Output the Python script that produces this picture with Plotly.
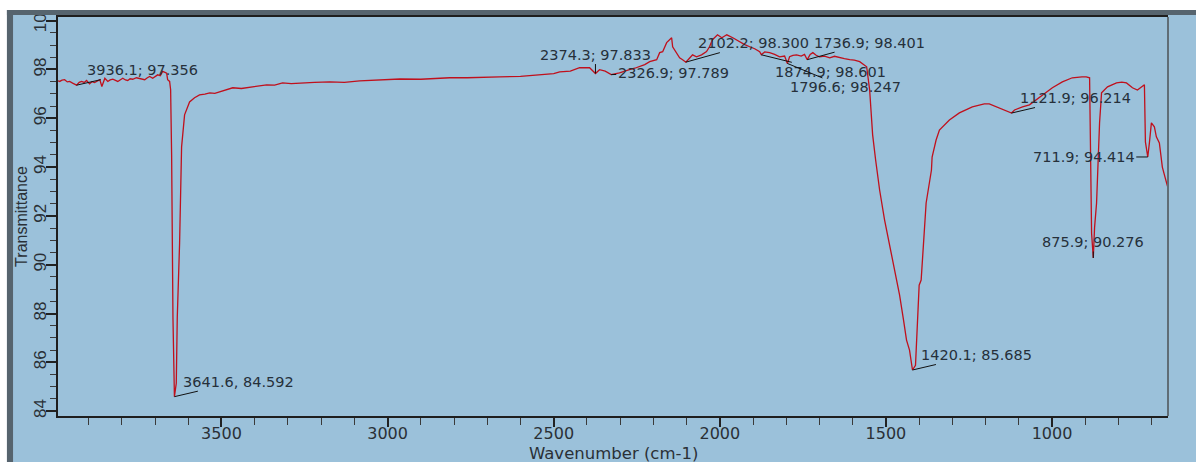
import plotly.graph_objects as go

# FTIR spectrum: wavenumber (cm-1) and transmittance (%)
wavenumber = [
    3992, 3987, 3980, 3972, 3964, 3957, 3948, 3936.1, 3928, 3921, 3913, 3906,
    3897, 3890, 3882, 3874, 3866, 3860, 3851, 3842, 3835, 3827, 3819, 3812,
    3804, 3797, 3789, 3782, 3775, 3767, 3756, 3746, 3738, 3731, 3723, 3716,
    3707, 3700, 3692, 3684, 3677, 3670, 3665, 3662, 3656, 3653, 3650, 3646,
    3643, 3641.6, 3636, 3633, 3626, 3620, 3611, 3602, 3596, 3581, 3566, 3550,
    3535, 3520, 3505, 3486, 3466, 3440, 3406, 3385, 3364, 3340, 3316, 3290,
    3264, 3220, 3174, 3130, 3084, 3020, 2963, 2900, 2850, 2813, 2760, 2710,
    2663, 2600, 2542, 2500, 2482, 2450, 2422, 2392, 2374.3, 2362, 2345, 2326.9,
    2302, 2285, 2272, 2256, 2241, 2226, 2211, 2190, 2181, 2172, 2160, 2145,
    2142, 2130, 2121, 2112, 2102.2, 2092, 2082, 2070, 2055, 2040, 2031, 2022,
    2007, 1994, 1979, 1961, 1940, 1925, 1910, 1895, 1880, 1874.9, 1865, 1850,
    1835, 1820, 1805, 1796.6, 1790, 1780, 1769, 1755, 1745, 1736.9, 1728, 1720,
    1710, 1700, 1685, 1669, 1655, 1639, 1625, 1609, 1595, 1579, 1558, 1549,
    1540, 1531, 1519, 1504, 1489, 1474, 1459, 1447, 1438, 1429, 1420.1, 1411,
    1405, 1400, 1394, 1385, 1379, 1363, 1361, 1349, 1339, 1309, 1279, 1240,
    1204, 1189, 1158, 1140, 1128, 1121.9, 1113, 1089, 1068, 1038, 999, 969,
    939, 910, 897, 887, 881, 875.9, 872, 866, 857, 851, 833, 806,
    790, 776, 758, 743, 730, 722, 719, 711.9, 707, 701, 692, 686,
    677, 668, 660, 651,
]
transmittance = [
    97.53, 97.51, 97.56, 97.58, 97.49, 97.51, 97.44, 97.356, 97.47, 97.51, 97.47, 97.55,
    97.41, 97.50, 97.46, 97.53, 97.58, 97.30, 97.64, 97.51, 97.57, 97.60, 97.55, 97.51,
    97.58, 97.64, 97.57, 97.55, 97.62, 97.60, 97.66, 97.64, 97.60, 97.58, 97.66, 97.71,
    97.64, 97.70, 97.78, 97.74, 97.92, 97.88, 97.85, 97.58, 97.51, 97.17, 94.50, 87.85,
    85.50, 84.592, 85.14, 87.85, 90.89, 94.83, 96.14, 96.47, 96.67, 96.84, 96.96, 96.99,
    97.04, 97.02, 97.08, 97.14, 97.25, 97.22, 97.29, 97.33, 97.37, 97.36, 97.45, 97.42,
    97.45, 97.47, 97.49, 97.47, 97.53, 97.56, 97.61, 97.60, 97.64, 97.66, 97.66, 97.69,
    97.70, 97.72, 97.78, 97.83, 97.90, 97.93, 98.07, 98.07, 97.833, 97.99, 97.93, 97.789,
    97.86, 97.95, 97.99, 98.05, 98.11, 98.20, 98.32, 98.40, 98.69, 98.73, 99.10, 99.30,
    98.93, 98.69, 98.48, 98.40, 98.300, 98.45, 98.60, 98.52, 98.60, 98.73, 98.93, 99.22,
    99.42, 99.30, 99.42, 99.30, 99.13, 99.02, 98.93, 98.85, 98.73, 98.601, 98.72, 98.69,
    98.62, 98.52, 98.55, 98.247, 98.52, 98.58, 98.60, 98.55, 98.62, 98.401, 98.62, 98.69,
    98.58, 98.52, 98.55, 98.48, 98.54, 98.48, 98.44, 98.40, 98.38, 98.32, 98.11, 97.16,
    95.32, 94.29, 93.06, 91.83, 90.80, 89.78, 88.76, 87.73, 86.91, 86.50, 85.685, 85.88,
    87.73, 89.16, 89.37, 91.30, 92.53, 93.88, 94.41, 95.11, 95.52, 95.93, 96.22, 96.47,
    96.59, 96.59, 96.43, 96.33, 96.26, 96.214, 96.34, 96.47, 96.55, 96.84, 97.25, 97.49,
    97.66, 97.70, 97.70, 97.66, 91.29, 90.276, 91.53, 92.53, 95.81, 97.04, 97.29, 97.45,
    97.48, 97.45, 97.25, 97.16, 97.30, 97.37, 95.03, 94.414, 94.99, 95.81, 95.65, 95.24,
    94.99, 94.00, 93.59, 93.14,
]

# Picked peaks (wavenumber, transmittance) and their label separators
peak_wn = [3936.1, 3641.6, 2374.3, 2326.9, 2102.2, 1874.9, 1796.6, 1736.9,
           1420.1, 1121.9, 875.9, 711.9]
peak_t = [97.356, 84.592, 97.833, 97.789, 98.300, 98.601, 98.247, 98.401,
          85.685, 96.214, 90.276, 94.414]
peak_sep = ["; ", ", ", "; ", "; ", "; ", "; ", "; ", "; ",
            "; ", "; ", "; ", "; "]
# label offsets from the peak, in pixels
peak_offset = [(66, -15), (64, -15), (0, -19), (62, -2), (68, -19), (69, 17),
               (58, 24), (62, -17), (64, -15), (64, -15), (0, -16), (-64, 0)]

x_ticks = [3500, 3000, 2500, 2000, 1500, 1000]
y_ticks = [84, 86, 88, 90, 92, 94, 96, 98, 100]

BG = "#9bc1da"
BAND = "#56646e"
TEXT = "#2a3036"

fig = go.Figure()
fig.add_trace(go.Scatter(
    x=wavenumber, y=transmittance, mode="lines",
    line=dict(color="#c0101c", width=1.3),
    hoverinfo="skip", showlegend=False,
))

for wn, t, sep, (ax, ay) in zip(peak_wn, peak_t, peak_sep, peak_offset):
    fig.add_annotation(
        x=wn, y=t, text=f"{wn:.1f}{sep}{t:.3f}",
        showarrow=True, arrowhead=0, arrowwidth=1, arrowcolor="#111111",
        ax=ax, ay=ay, standoff=0,
        font=dict(family="DejaVu Sans", size=14.5, color="#26303a"),
    )

# x-axis title, placed under the tick labels
fig.add_annotation(
    xref="paper", yref="paper", x=0.5, y=-0.094, xanchor="center",
    yanchor="middle", showarrow=False, text="Wavenumber (cm-1)",
    font=dict(family="DejaVu Sans", size=16.5, color=TEXT),
)

# outer frame: white margin and dark bands at top and left, gray right border
shapes = [
    dict(type="rect", xref="paper", yref="paper", x0=-0.06, x1=1.05,
         y0=1.0175, y1=1.06, fillcolor="white", line_width=0, layer="above"),
    dict(type="rect", xref="paper", yref="paper", x0=-0.06, x1=-0.0460,
         y0=-0.13, y1=1.06, fillcolor="white", line_width=0, layer="above"),
    dict(type="rect", xref="paper", yref="paper", x0=-0.0460, x1=1.05,
         y0=1.0050, y1=1.0175, fillcolor=BAND, line_width=0, layer="above"),
    dict(type="rect", xref="paper", yref="paper", x0=-0.0460, x1=-0.0405,
         y0=-0.13, y1=1.0175, fillcolor=BAND, line_width=0, layer="above"),
    dict(type="line", xref="paper", yref="paper", x0=1, x1=1, y0=0, y1=1,
         line=dict(color="#5f6d76", width=2), layer="above"),
]

fig.update_layout(
    width=1196, height=462,
    margin=dict(l=58, r=28, t=17, b=46, autoexpand=False),
    paper_bgcolor=BG, plot_bgcolor=BG,
    shapes=shapes,
    xaxis=dict(
        range=[3992, 651], autorange=False, automargin=False,
        tickvals=x_ticks, ticks="outside", ticklen=9, tickwidth=1.5,
        tickcolor="#222222", ticklabelstandoff=-7,
        minor=dict(dtick=100, tick0=0, ticks="outside", ticklen=7,
                   tickwidth=1.2, tickcolor="#3a3a3a"),
        showgrid=False, zeroline=False,
        showline=True, linecolor="#1e1e1e", linewidth=1.5, mirror=True,
        tickfont=dict(family="DejaVu Sans", size=16, color=TEXT),
    ),
    yaxis=dict(
        range=[83.8, 100.15], autorange=False, automargin=False,
        tickvals=y_ticks, ticks="outside", ticklen=10, tickwidth=1.5,
        tickcolor="#222222", tickangle=-90, ticklabelstandoff=-7,
        minor=dict(dtick=0.5, tick0=0, ticks="outside", ticklen=6,
                   tickwidth=1.2, tickcolor="#3a3a3a"),
        showgrid=False, zeroline=False,
        showline=True, linecolor="#1e1e1e", linewidth=1.5,
        tickfont=dict(family="Liberation Sans", size=17, color=TEXT),
        title=dict(text="Transmittance", standoff=0,
                   font=dict(family="Liberation Sans", size=16, color=TEXT)),
    ),
)

fig.write_html("out.html")
